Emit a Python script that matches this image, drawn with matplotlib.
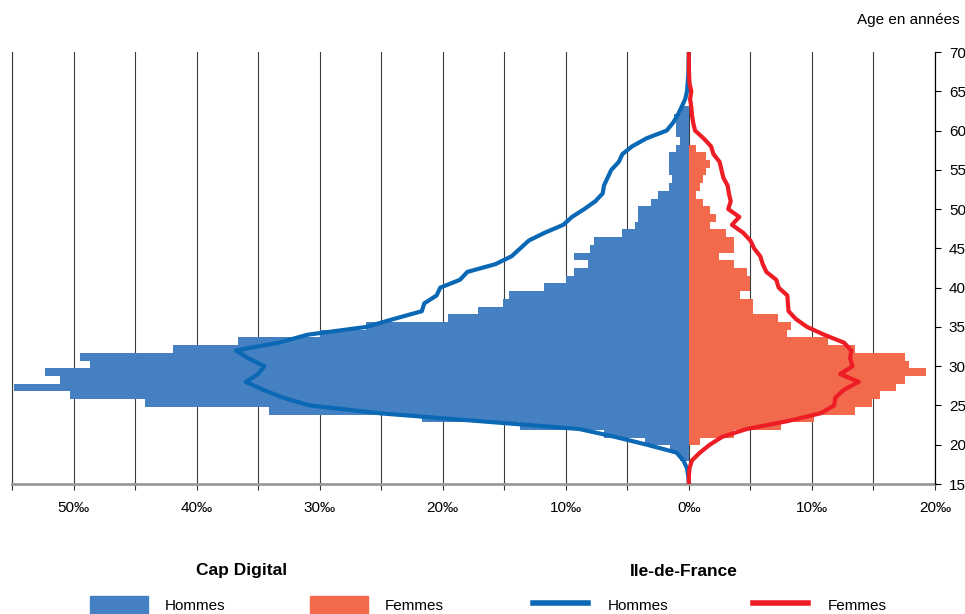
"""
Pyramide des âges : Cap Digital (barres) et Ile-de-France (courbes)
"""

import matplotlib
matplotlib.use("Agg")
import matplotlib.pyplot as plt
import numpy as np
from matplotlib.patches import Patch
from matplotlib.lines import Line2D
from matplotlib.ticker import FuncFormatter

plt.rcParams['font.family'] = ['Liberation Sans', 'DejaVu Sans']

# Cap Digital, pour mille par âge (barres)
ages_hommes_cd = np.arange(18, 64)
hommes_cd = [0.7, 1.55, 3.6, 6.9, 13.7, 21.7, 34.1, 44.2, 50.3, 54.8,
             51.1, 52.3, 48.7, 49.5, 41.9, 36.6, 30.0, 26.2, 19.6, 17.1,
             15.1, 14.6, 11.8, 9.95, 9.35, 8.2, 9.35, 8.0, 7.7, 5.4,
             4.4, 4.1, 4.1, 3.1, 2.5, 1.63, 1.36, 1.63, 1.63, 1.63,
             1.06, 0.75, 1.05, 1.05, 1.2, 0.6]

ages_femmes_cd = np.arange(20, 59)
femmes_cd = [0.9, 3.66, 7.5, 10.2, 13.5, 14.9, 15.5, 16.8, 17.6, 19.3,
             17.9, 17.6, 13.5, 11.27, 7.94, 8.27, 7.26, 5.18, 5.18, 4.15,
             4.96, 4.96, 4.69, 3.66, 2.47, 3.66, 3.66, 3.0, 1.71, 2.2,
             1.71, 1.11, 0.57, 0.89, 1.11, 1.38, 1.71, 1.38, 0.57]

# Ile-de-France, pour mille par âge (courbes)
ages_idf = np.arange(15, 71)
hommes_idf = [0, 0.05, 0.15, 0.45, 1.0, 3.4, 6.0, 8.9, 17.0, 25.1,
              30.8, 33.0, 34.6, 36.0, 35.0, 34.5, 35.8, 36.8, 33.3, 31.0,
              26.2, 24.0, 21.7, 21.5, 20.5, 20.2, 18.6, 18.0, 15.7, 14.4,
              13.7, 13.0, 11.7, 10.2, 9.5, 8.5, 7.6, 7.0, 6.9, 6.6,
              6.3, 5.7, 5.4, 4.6, 3.45, 1.8, 1.28, 0.9, 0.59, 0.3,
              0.15, 0.1, 0.05, 0.03, 0.02, 0]
femmes_idf = [0, 0, 0.05, 0.25, 0.9, 1.7, 2.7, 4.7, 8.0, 10.7,
              11.8, 11.9, 12.6, 13.8, 12.3, 13.3, 13.1, 13.2, 12.6, 11.0,
              9.6, 8.7, 8.1, 8.05, 8.0, 7.3, 7.1, 6.3, 6.0, 5.8,
              5.3, 5.0, 4.4, 3.5, 4.1, 3.2, 3.4, 3.25, 3.15, 2.8,
              2.65, 2.5, 2.0, 1.8, 1.2, 0.5, 0.35, 0.25, 0.2, 0.1,
              0.2, 0.05, 0.02, 0, 0, 0]

x_ticks = np.arange(-50, 21, 10)
y_ticks = np.arange(15, 71, 5)

c_hommes_cd = '#4580c2'
c_femmes_cd = '#f2694b'
c_hommes_idf = '#0a68b5'
c_femmes_idf = '#ee1c25'

W, H = 965, 614
fig = plt.figure(figsize=(W / 100, H / 100), dpi=100)

# axe des barres (catégories 15..70 -> 56 cases)
ax = fig.add_axes([12 / W, 130 / H, 923 / W, 432 / H])
ax.set_xlim(-55, 20)
ax.set_ylim(15, 71)
ax.barh(ages_hommes_cd, -np.array(hommes_cd), height=1, align='edge',
        color=c_hommes_cd, linewidth=0)
ax.barh(ages_femmes_cd, femmes_cd, height=1, align='edge',
        color=c_femmes_cd, linewidth=0)

ax.set_xticks(x_ticks)
ax.set_xticks(np.arange(-55, 21, 5), minor=True)
ax.xaxis.set_major_formatter(FuncFormatter(lambda v, p: f"{abs(int(round(v)))}‰"))
ax.grid(axis='x', which='both', color='#3c3c3c', linewidth=0.8)
ax.set_axisbelow(True)
ax.tick_params(axis='x', which='both', length=4, width=0.8, color='#333333',
               labelsize=11, pad=8)
ax.set_yticks([])
for s in ['top', 'right']:
    ax.spines[s].set_visible(False)
ax.spines['left'].set_color('#3c3c3c')
ax.spines['left'].set_linewidth(0.8)
ax.spines['bottom'].set_color('#9a9a9a')
ax.spines['bottom'].set_linewidth(2)

# axe des courbes (âge en années)
ax2 = ax.twinx()
ax2.set_ylim(15, 70)
ax2.plot(-np.array(hommes_idf), ages_idf, color=c_hommes_idf, linewidth=3)
ax2.plot(femmes_idf, ages_idf, color=c_femmes_idf, linewidth=3)
ax2.set_yticks(y_ticks)
ax2.tick_params(axis='y', length=4, width=0.8, labelsize=11, pad=6)
for s in ['top', 'left', 'bottom']:
    ax2.spines[s].set_visible(False)
ax2.spines['right'].set_color('black')
ax2.spines['right'].set_linewidth(0.9)

fig.text(960 / W, 1 - 20 / H, "Age en années", ha='right', va='center', fontsize=11)

fig.text(242 / W, 1 - 571 / H, "Cap Digital", ha='center', va='center',
         fontsize=12.5, fontweight='bold')
fig.text(684 / W, 1 - 571 / H, "Ile-de-France", ha='center', va='center',
         fontsize=12.5, fontweight='bold')

leg1 = fig.legend(handles=[Patch(color=c_hommes_cd), Patch(color=c_femmes_cd)],
                  labels=['Hommes', 'Femmes'], ncol=2, loc='center left',
                  bbox_to_anchor=(90 / W, 9 / H), frameon=False, fontsize=11,
                  handlelength=3.8, handleheight=1.4, handletextpad=1.1,
                  columnspacing=5.5, borderpad=0, borderaxespad=0)
leg2 = fig.legend(handles=[Line2D([], [], color=c_hommes_idf, linewidth=4),
                           Line2D([], [], color=c_femmes_idf, linewidth=4)],
                  labels=['Hommes', 'Femmes'], ncol=2, loc='center left',
                  bbox_to_anchor=(533 / W, 9 / H), frameon=False, fontsize=11,
                  handlelength=3.6, handleheight=1.4, handletextpad=1.3,
                  columnspacing=5.5, borderpad=0, borderaxespad=0)

fig.savefig("out.png", dpi=100)
